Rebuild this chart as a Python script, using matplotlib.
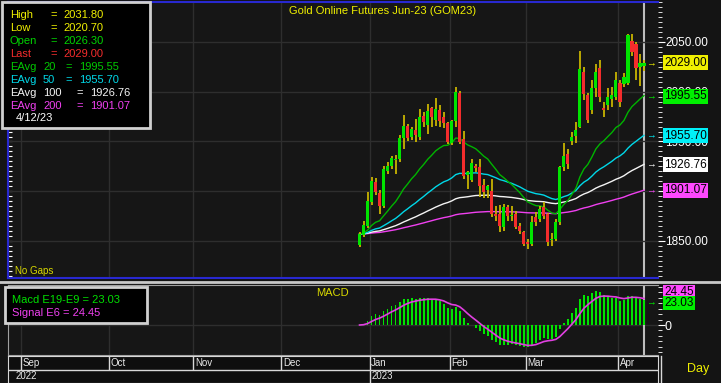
import matplotlib
matplotlib.use("Agg")
import matplotlib.pyplot as plt
import matplotlib.transforms as mtransforms
from matplotlib.patches import Rectangle
from matplotlib.lines import Line2D
from matplotlib.ticker import MultipleLocator, FormatStrFormatter, NullFormatter, FixedLocator
import numpy as np
import pandas as pd

plt.rcParams['font.family'] = ['Liberation Sans', 'DejaVu Sans']

W, H = 721, 383

# daily bars of GOM23, Dec 28 2022 .. Apr 12 2023
opens = [1846, 1856, 1865, 1889, 1909, 1898, 1885, 1920, 1925, 1931,
         1932, 1954, 1966, 1955, 1962, 1955, 1976, 1967, 1984, 1972,
         1982, 1975, 1969, 1948, 1971, 1999, 1953, 1916, 1911, 1925,
         1924, 1906, 1901, 1900, 1877, 1877, 1864, 1884, 1875, 1877,
         1865, 1859, 1849, 1847, 1874, 1872, 1884, 1877, 1851, 1852,
         1869, 1924, 1937, 1950, 1956, 1965, 2020, 1997, 1982, 2004,
         2024, 1984, 1987, 1993, 1995, 2009, 2008, 2009, 2051, 2048,
         2025, 2026.3]
highs = [1859, 1870, 1899, 1914, 1913, 1901, 1925, 1929, 1935, 1936,
         1957, 1977, 1968, 1965, 1973, 1983, 1980, 1988, 1985, 1994,
         1987, 1980, 1970, 1972, 2005, 2001, 1961, 1920, 1932, 1927,
         1932, 1912, 1906, 1912, 1885, 1886, 1887, 1886, 1885, 1880,
         1868, 1860, 1852, 1875, 1879, 1885, 1889, 1878, 1858, 1872,
         1925, 1948, 1942, 1960, 1970, 2041, 2025, 1999, 2012, 2028,
         2032, 1990, 2004, 2005, 2020, 2012, 2019, 2058, 2058, 2050,
         2038, 2031.8]
lows = [1844, 1854, 1863, 1886, 1896, 1877, 1883, 1917, 1922, 1917,
        1929, 1942, 1950, 1952, 1949, 1952, 1965, 1958, 1965, 1966,
        1965, 1964, 1947, 1946, 1965, 1947, 1912, 1902, 1909, 1919,
        1894, 1893, 1893, 1874, 1870, 1859, 1860, 1870, 1870, 1862,
        1857, 1845, 1842, 1845, 1865, 1869, 1872, 1845, 1845, 1850,
        1866, 1920, 1922, 1946, 1948, 1964, 1992, 1969, 1978, 1995,
        1990, 1975, 1982, 1985, 1992, 1985, 2005, 2007, 2036, 2012,
        2006, 2020.7]
closes = [1857, 1866, 1890, 1910, 1899, 1885, 1922, 1925, 1933, 1932,
          1954, 1966, 1954, 1963, 1957, 1975, 1970, 1981, 1975, 1983,
          1971, 1969, 1949, 1971, 2000, 1949, 1915, 1919, 1928, 1923,
          1905, 1899, 1905, 1877, 1875, 1865, 1884, 1875, 1876, 1864,
          1860, 1847, 1847, 1869, 1869, 1882, 1875, 1849, 1852, 1869,
          1924, 1935, 1927, 1955, 1962, 2023, 1998, 1972, 2004, 2020,
          1995, 1982, 1995, 1997, 2012, 1990, 2015, 2057, 2040, 2024,
          2029, 2029.0]

holidays = ['2023-01-02', '2023-01-16', '2023-02-20', '2023-04-07']

ema_lengths = [20, 50, 100, 200]
ema_values = [1995.55, 1955.70, 1926.76, 1901.07]
last_bar = {'High': 2031.80, 'Low': 2020.70, 'Open': 2026.30, 'Last': 2029.00}
macd_value = 23.03
signal_value = 24.45

YELLOW = '#f0f000'
GREEN = '#00e400'
RED = '#f42c2c'
WICK = '#c8b400'
MA_COLORS = {20: '#00b400', 50: '#00d8e8', 100: '#f4f4f4', 200: '#f040f0'}
BOX_COLORS = {20: '#00f000', 50: '#00f0f8', 100: '#ffffff', 200: '#ff48ff'}
GRID = '#2e2e2e'
BLUE = '#2828d0'


def box(l, t, r, b):
    """pixel box -> figure fraction rect"""
    return [l / W, 1 - b / H, (r - l) / W, (b - t) / H]


# x axis: empty weekday slots before the data, trading days inside it ("No Gaps")
empty = pd.bdate_range('2022-08-29', '2022-12-27')
trade = pd.bdate_range('2022-12-28', '2023-04-12')
trade = trade[~trade.isin(pd.to_datetime(holidays))]
axis_dates = empty.append(trade)
xs = np.arange(len(empty), len(axis_dates))
months = axis_dates.to_period('M')
month_starts = [i for i in range(1, len(axis_dates)) if months[i] != months[i - 1]]
bounds = [i - 0.5 for i in month_starts]
xlim = (month_starts[0] - 3.75, xs[-1] + 3.5)

o, h, l, c = (np.array(a, dtype=float) for a in (opens, highs, lows, closes))
close_s = pd.Series(c)
emas = {n: close_s.ewm(span=n, adjust=False).mean() for n in ema_lengths}
macd = close_s.ewm(span=9, adjust=False).mean() - close_s.ewm(span=19, adjust=False).mean()
signal = macd.ewm(span=6, adjust=False).mean()

fig = plt.figure(figsize=(W / 100, H / 100), dpi=100, facecolor='#141414')

# ---------------- price panel
ax = fig.add_axes(box(8, 2, 658, 278), facecolor='#161616')
ax.set_xlim(xlim)
ax.set_ylim(1812.8, 2090.2)
ax.set_xticks([])
ax.yaxis.tick_right()
ax.yaxis.set_major_locator(MultipleLocator(50))
ax.yaxis.set_minor_locator(MultipleLocator(5))
ax.yaxis.set_major_formatter(FormatStrFormatter('%.2f'))
ax.tick_params(axis='y', which='both', colors='white', labelsize=8.5, pad=0)
ax.tick_params(axis='y', which='major', length=5)
ax.tick_params(axis='y', which='minor', length=3)
ax.grid(axis='y', which='major', color=GRID, lw=1)
for b in bounds:
    ax.axvline(b, color=GRID, lw=1, zorder=0.5)
for side in ('left', 'top', 'bottom'):
    ax.spines[side].set_color(BLUE)
    ax.spines[side].set_linewidth(1.5)
ax.spines['right'].set_visible(False)

sec = ax.secondary_yaxis('left')
sec.yaxis.set_major_locator(MultipleLocator(5))
sec.yaxis.set_major_formatter(NullFormatter())
sec.tick_params(direction='in', colors='white', length=3)
sec.spines['left'].set_color(BLUE)
sec.spines['left'].set_linewidth(1.5)

ax.axvline(xs[-1], color='#bdbdbd', lw=1.5, zorder=1)

for n in sorted(ema_lengths, reverse=True):
    ax.plot(xs, emas[n], color=MA_COLORS[n], lw=1, zorder=2)

ax.vlines(xs, l, h, color=WICK, lw=1.3, zorder=3)
body = np.maximum(np.abs(c - o), 1.2)
ax.bar(xs, body, bottom=np.minimum(o, c), width=0.78,
       color=np.where(c >= o, GREEN, RED), linewidth=0, zorder=4)

trans = mtransforms.blended_transform_factory(ax.transAxes, ax.transData)
tags = [(last_bar['Last'], YELLOW)] + [(v, BOX_COLORS[n]) for n, v in zip(ema_lengths, ema_values)]
for val, col in tags:
    ax.text(1 + 6 / 650, val, f'{val:.2f}', transform=trans, ha='left', va='center',
            fontsize=8.5, color='black', clip_on=False, zorder=6,
            bbox=dict(boxstyle='square,pad=0.12', fc=col, ec='none'))
    ax.text(1 - 7 / 650, val, '→', transform=trans, ha='center', va='center',
            fontsize=7, color=col, zorder=6)

# ---------------- MACD panel
ax2 = fig.add_axes(box(8, 285, 658, 355), facecolor='#161616')
ax2.set_xlim(xlim)
ax2.set_ylim(-27.6, 36.8)
ax2.set_xticks([])
ax2.yaxis.tick_right()
ax2.yaxis.set_major_locator(FixedLocator([0]))
ax2.yaxis.set_minor_locator(MultipleLocator(5))
ax2.tick_params(axis='y', which='both', colors='white', labelsize=9, pad=0)
ax2.tick_params(axis='y', which='major', length=5)
ax2.tick_params(axis='y', which='minor', length=3)
ax2.axhline(0, color=GRID, lw=1, zorder=0.5)
for b in bounds:
    ax2.axvline(b, color=GRID, lw=1, zorder=0.5)
for side in ('left', 'top', 'bottom', 'right'):
    ax2.spines[side].set_color('#a0a0a0')
ax2.spines['right'].set_visible(False)
ax2.axvline(xs[-1], color='#bdbdbd', lw=1.5, zorder=1)
ax2.bar(xs, macd, width=0.45, color=GREEN, linewidth=0, zorder=2)
ax2.plot(xs, signal, color='#e040e0', lw=1.2, zorder=3)

trans2 = mtransforms.blended_transform_factory(ax2.transAxes, ax2.transData)
for val, col, dy in ((signal_value, '#ff48ff', 4.5), (macd_value, '#00f000', -2.2)):
    ax2.annotate(f'{val:.2f}', xy=(1 + 6 / 650, val), xycoords=trans2,
                 xytext=(0, dy), textcoords='offset points', ha='left', va='center',
                 fontsize=8.5, color='black', annotation_clip=False,
                 bbox=dict(boxstyle='square,pad=0.12', fc=col, ec='none'))
ax2.text(1 - 7 / 650, macd_value - 2, '→', transform=trans2, ha='center', va='center',
         fontsize=7, color='#00f000')

# ---------------- date strip
axd = fig.add_axes(box(8, 356, 658, 383), facecolor='#0e0e0e')
axd.set_xlim(xlim)
axd.set_ylim(0, 2)
axd.set_xticks([])
axd.set_yticks([])
for s in axd.spines.values():
    s.set_color('#d8d8d8')
axd.axhline(1, color='#d8d8d8', lw=1)
for i, b in zip(month_starts, bounds):
    d = axis_dates[i]
    new_year = d.month == 1
    axd.vlines(b, 0 if new_year else 1, 2, color='#d8d8d8', lw=1)
    axd.text(b + 0.4, 1.45, d.strftime('%b'), color='#e8e8e8', fontsize=7, va='center')
    if new_year:
        axd.text(b + 0.4, 0.5, str(d.year), color='#e8e8e8', fontsize=7, va='center')
axd.text(xlim[0] + 2, 0.5, str(axis_dates[0].year), color='#e8e8e8', fontsize=7, va='center')

fig.add_artist(Line2D([661 / W, 661 / W], [0, 1 - 356 / H], color='#d8d8d8', lw=1))
fig.add_artist(Line2D([0, 1], [1 - 281.5 / H] * 2, color='#c8c8c8', lw=2))
fig.text(698 / W, 1 - 369 / H, 'Day', color=YELLOW, fontsize=9, ha='center', va='center')

# ---------------- titles and legends
fig.text(383 / W, 1 - 11 / H, 'Gold Online Futures Jun-23 (GOM23)', color=YELLOW,
         fontsize=8, ha='center', va='center')
fig.text(15 / W, 1 - 271 / H, 'No Gaps', color='#d8d800', fontsize=7, va='center')
fig.text(332 / W, 1 - 293 / H, 'MACD', color='#d8d800', fontsize=8, ha='center', va='center')

fig.add_artist(Rectangle((2 / W, 1 - 128 / H), 148 / W, 126 / H, transform=fig.transFigure,
                         fc='black', ec='#d0d0d0', lw=2))
rows = [('High', YELLOW), ('Low', YELLOW), ('Open', '#00d400'), ('Last', RED)]
for k, (name, col) in enumerate(rows):
    y = 1 - (15 + 13 * k) / H
    fig.text(10 / W, y, name, color=col, fontsize=8, va='center')
    fig.text(50 / W, y, '=', color=col, fontsize=8, va='center')
    fig.text(63 / W, y, f'{last_bar[name]:.2f}', color=col, fontsize=8, va='center')
for k, (n, v) in enumerate(zip(ema_lengths, ema_values)):
    y = 1 - (67 + 13 * k) / H
    col = MA_COLORS[n] if n != 20 else '#00c800'
    eq_x = 65 if n < 100 else 76
    fig.text(10 / W, y, 'EAvg', color=col, fontsize=8, va='center')
    fig.text(43 / W, y, str(n), color=col, fontsize=8, va='center')
    fig.text(eq_x / W, y, '=', color=col, fontsize=8, va='center')
    fig.text((eq_x + 14) / W, y, f'{v:.2f}', color=col, fontsize=8, va='center')
fig.text(16 / W, 1 - 118 / H, '4/12/23', color='white', fontsize=8, va='center')

fig.add_artist(Rectangle((5 / W, 1 - 323 / H), 142 / W, 36 / H, transform=fig.transFigure,
                         fc='black', ec='#d0d0d0', lw=2))
fig.text(12 / W, 1 - 300 / H, f'Macd E19-E9 = {macd_value:.2f}', color='#00e000',
         fontsize=8, va='center')
fig.text(12 / W, 1 - 313 / H, f'Signal E6 = {signal_value:.2f}', color='#f040f0',
         fontsize=8, va='center')

fig.savefig('out.png', dpi=100, facecolor=fig.get_facecolor())
